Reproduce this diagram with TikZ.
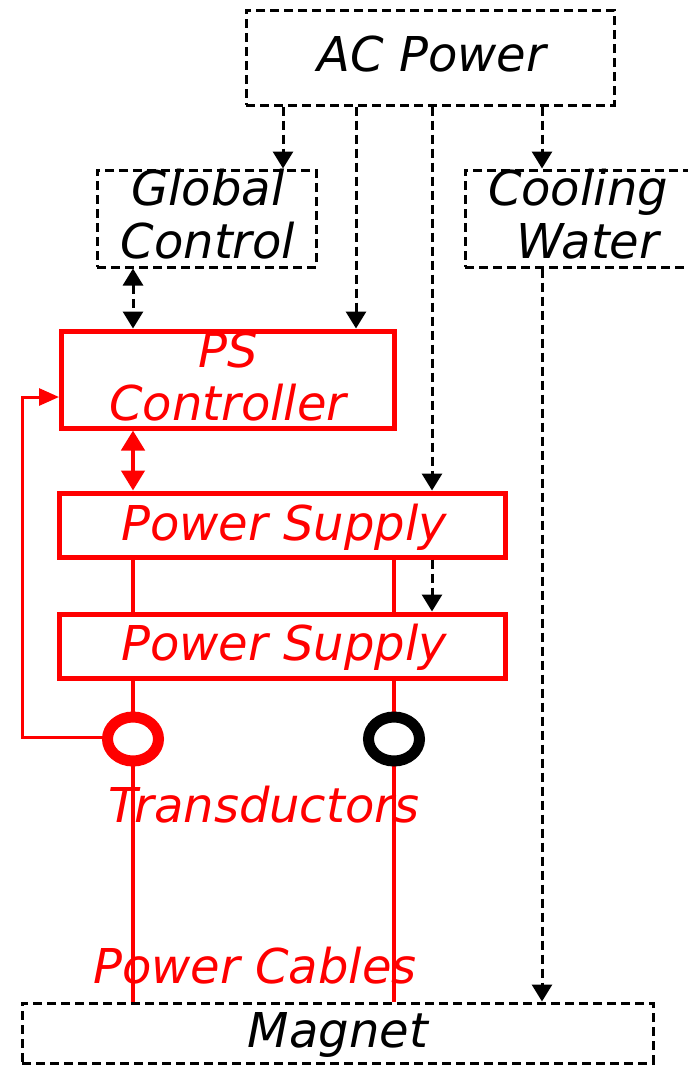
\documentclass[tikz,border=0pt]{standalone}
\usepackage{fontspec}
\setmainfont{DejaVu Sans}
\usetikzlibrary{arrows.meta,shapes.geometric}
\definecolor{pr}{RGB}{255,0,0}
\begin{document}
\begin{tikzpicture}[x=1pt,y=-1pt,
  dbox/.style={draw=black,line width=3pt,dash pattern=on 9pt off 5pt,inner sep=0pt},
  rbox/.style={draw=pr,line width=5pt,inner sep=0pt},
  txt/.style={font=\fontsize{48}{53}\selectfont\itshape,anchor=base,inner sep=0pt},
  dline/.style={draw=black,line width=3pt,dash pattern=on 9pt off 5pt},
  btip/.tip={Triangle[width=20pt,length=17pt]},
  rtip/.tip={Triangle[width=23pt,length=20pt]},
  barrow/.style={-btip},
  rline/.style={draw=pr,line width=4.5pt},
  ring/.style={ellipse,draw,line width=11pt,fill=white,minimum width=51pt,minimum height=44pt,inner sep=0pt}
]
\useasboundingbox[fill=white] (0,0) rectangle (688,1066);

% boxes
\node[dbox,minimum width=368pt,minimum height=95pt] (ac) at (430,57.5) {};
\node[dbox,minimum width=219pt,minimum height=97pt] (gc) at (206.5,218.5) {};
\node[dbox,minimum width=226pt,minimum height=97pt] (cw) at (578,218.5) {};
\node[rbox,minimum width=333pt,minimum height=97pt] (psc) at (227.5,379.5) {};
\node[rbox,minimum width=446pt,minimum height=64pt] (ps1) at (282,525) {};
\node[rbox,minimum width=446pt,minimum height=64pt] (ps2) at (282,646) {};
\node[dbox,minimum width=631pt,minimum height=60pt] (mag) at (337.5,1033) {};

% red power lines
\draw[rline] (133,0 |- ps1.south) -- (133,0 |- ps2.north);
\draw[rline] (394,0 |- ps1.south) -- (394,0 |- ps2.north);
\draw[rline] (133,0 |- ps2.south) -- (133,0 |- mag.north);
\draw[rline] (394,0 |- ps2.south) -- (394,0 |- mag.north);

% feedback
\coordinate (fbin) at (59,397);
\draw[draw=pr,line width=3pt,-{Triangle[width=17pt,length=20pt]}] (110,737) -- (22,737) |- (fbin);

% rings
\node[ring,draw=pr] (t1) at (133,739) {};
\node[ring,draw=black] (t2) at (394,739) {};

% dashed arrows
\draw[dline,barrow] (283,0 |- ac.south) -- (283,0 |- gc.north);
\draw[dline,barrow] (356,0 |- ac.south) -- (356,0 |- psc.north);
\draw[dline,barrow] (432,0 |- ac.south) -- (432,0 |- ps1.north);
\draw[dline,barrow] (542,0 |- ac.south) -- (542,0 |- cw.north);
\draw[dline,btip-btip] (133,0 |- gc.south) -- (133,0 |- psc.north);
\draw[dline,barrow] (432,0 |- ps1.south) -- (432,0 |- ps2.north);
\draw[dline,barrow] (542,0 |- cw.south) -- (542,0 |- mag.north);

% red double arrow
\draw[rline,rtip-rtip] (133,0 |- psc.south) -- (133,0 |- ps1.north);

% texts
\node[txt] (acT) at (432,71) {AC Power};
\node[txt] (gcT1) at (208,205) {Global};
\node[txt] (gcT2) at (208,258) {Control};
\node[txt] (cwT1) at (578,205) {Cooling};
\node[txt] (cwT2) at (588,258) {Water};
\node[txt,text=pr] (pscT1) at (228,367) {PS};
\node[txt,text=pr] (pscT2) at (228,420) {Controller};
\node[txt,text=pr] (ps1T) at (284,540) {Power Supply};
\node[txt,text=pr] (ps2T) at (284,660) {Power Supply};
\node[txt,text=pr] (trT) at (264,822) {Transductors};
\node[txt,text=pr] (pcT) at (255,983) {Power Cables};
\node[txt] (magT) at (338,1047) {Magnet};
\end{tikzpicture}
\end{document}
